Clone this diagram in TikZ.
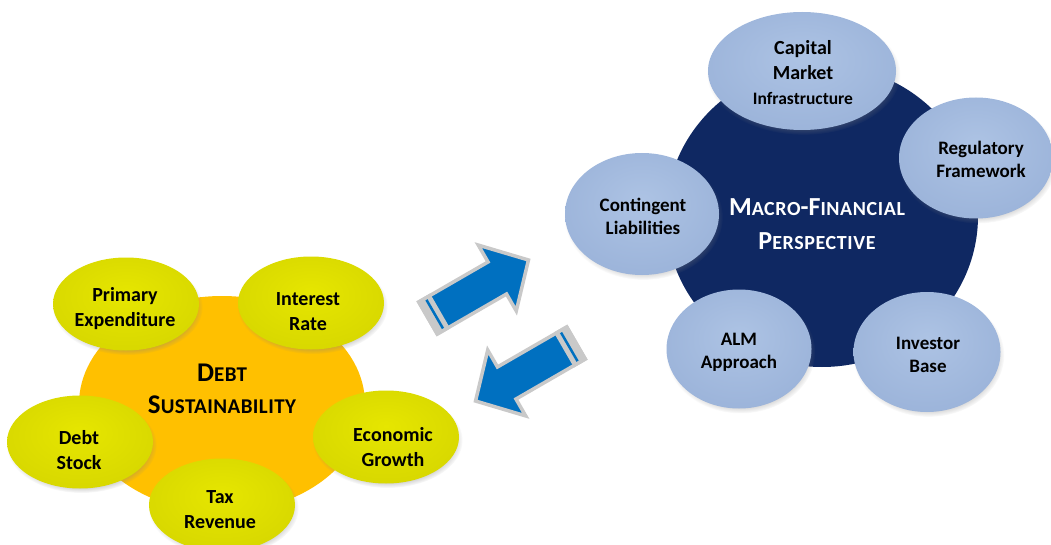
\documentclass[tikz,border=0pt]{standalone}
\usepackage{fontspec}
\setmainfont{Carlito}
\usetikzlibrary{shapes.geometric,shadows}
\definecolor{dsorange}{HTML}{FFC000}
\definecolor{mfnavy}{HTML}{0F2862}
\definecolor{yelA}{HTML}{E6E600}
\definecolor{yelB}{HTML}{D8D800}
\definecolor{yelC}{HTML}{B8B800}
\definecolor{bluA}{HTML}{ADC3E4}
\definecolor{bluB}{HTML}{9CB4DA}
\definecolor{bluC}{HTML}{7F96BE}
\definecolor{arrblue}{HTML}{0070C0}
\definecolor{arrgray}{HTML}{C9C9C9}
\pgfdeclareradialshading{yelball}{\pgfpoint{0bp}{6bp}}{color(0bp)=(yelA); color(28bp)=(yelB); color(44bp)=(yelB); color(50bp)=(yelC)}
\pgfdeclareradialshading{bluball}{\pgfpoint{0bp}{6bp}}{color(0bp)=(bluA); color(28bp)=(bluB); color(44bp)=(bluB); color(50bp)=(bluC)}
\tikzset{
  bigdisc/.style={ellipse, inner sep=0pt, draw=none},
  yel/.style={ellipse, inner sep=0pt, minimum width=146pt, minimum height=93pt, shade, shading=yelball,
    circular drop shadow={shadow xshift=1.5pt, shadow yshift=-3pt, shadow scale=1.03, opacity=0.45}},
  blu/.style={ellipse, inner sep=0pt, shade, shading=bluball,
    circular drop shadow={shadow xshift=1.5pt, shadow yshift=-3pt, shadow scale=1.03, opacity=0.45}},
  ltxt/.style={align=center, inner sep=0pt, text=black, font=\bfseries\fontsize{20}{25}\selectfont},
  rtxt/.style={align=center, inner sep=0pt, text=black, font=\bfseries\fontsize{19}{23}\selectfont},
  barrow/.style={fill=arrblue, draw=arrgray, line width=3.5pt, line join=miter},
}
\newcommand\blockarrow{%
  \path[barrow] (0,-18.5) -- (80,-18.5) -- (80,-38) -- (116,0) -- (80,38) -- (80,18.5) -- (0,18.5) -- cycle;
  \fill[arrgray] (-1.75,-20.25) rectangle (14,20.25);
  \fill[arrblue] (6.5,-16.5) rectangle (9,16.5);
}
\newcommand\smc[1]{{\fontsize{21}{32}\selectfont\addfontfeature{LetterSpace=2}#1}}
\newcommand\smw[1]{{\fontsize{20}{34}\selectfont\addfontfeature{LetterSpace=3}#1}}
\begin{document}
\begin{tikzpicture}[x=1pt,y=-1pt]
\useasboundingbox (0,0) rectangle (1051,545);
% big discs
\node[bigdisc, fill=dsorange, minimum width=286pt, minimum height=216pt] (ds) at (222,404) {};
\node[bigdisc, fill=mfnavy, minimum width=312pt, minimum height=302pt] (mf) at (822,216) {};
% left ellipses
\node[yel] (pe) at (126,304) {};
\node[yel] (ir) at (311,303) {};
\node[yel] (dst) at (80,442) {};
\node[yel] (eg) at (386,437) {};
\node[yel] (tr) at (222,505) {};
% right ellipses
\node[blu, minimum width=188pt, minimum height=118pt] (cmi) at (802,71) {};
\node[blu, minimum width=154pt, minimum height=121pt] (rf) at (976,158) {};
\node[blu, minimum width=154pt, minimum height=122pt] (cl) at (642,214) {};
\node[blu, minimum width=145pt, minimum height=119pt] (alm) at (739,349) {};
\node[blu, minimum width=147pt, minimum height=120pt] (ib) at (927,352) {};
% texts
\node[ltxt] (pe-t) at (125,309) {Primary\\Expenditure};
\node[ltxt] (ir-t) at (308,312) {Interest\\Rate};
\node[ltxt] (dst-t) at (79,450) {Debt\\Stock};
\node[ltxt] (eg-t) at (393,447) {Economic\\Growth};
\node[ltxt] (tr-t) at (220,510) {Tax\\Revenue};
\node[align=center, inner sep=0pt, text=black, font=\bfseries\fontsize{27}{32}\selectfont] (ds-t) at (222,389)
  {D\smc{EBT}\\S\smc{USTAINABILITY}};
\node[align=center, inner sep=0pt, text=black, font=\bfseries\fontsize{20}{25}\selectfont] (cmi-t) at (803,73)
  {Capital\\Market\\{\fontsize{17.5}{24}\selectfont Infrastructure}};
\node[rtxt] (rf-t) at (981,159) {Regulatory\\Framework};
\node[rtxt] (cl-t) at (643,216) {Contingent\\Liabilities};
\node[rtxt] (alm-t) at (739,352) {ALM\\Approach};
\node[rtxt] (ib-t) at (928,355) {Investor\\Base};
\node[align=center, inner sep=0pt, text=white, font=\bfseries\fontsize{26}{34}\selectfont] (mf-t) at (817,224)
  {M\smw{ACRO}-F\smw{INANCIAL}\\P\smw{ERSPECTIVE}};
% arrows
\begin{scope}[shift={(428,318)}, rotate=30]
\blockarrow
\end{scope}
\begin{scope}[shift={(576,343)}, rotate=210]
\blockarrow
\end{scope}
\end{tikzpicture}
\end{document}
